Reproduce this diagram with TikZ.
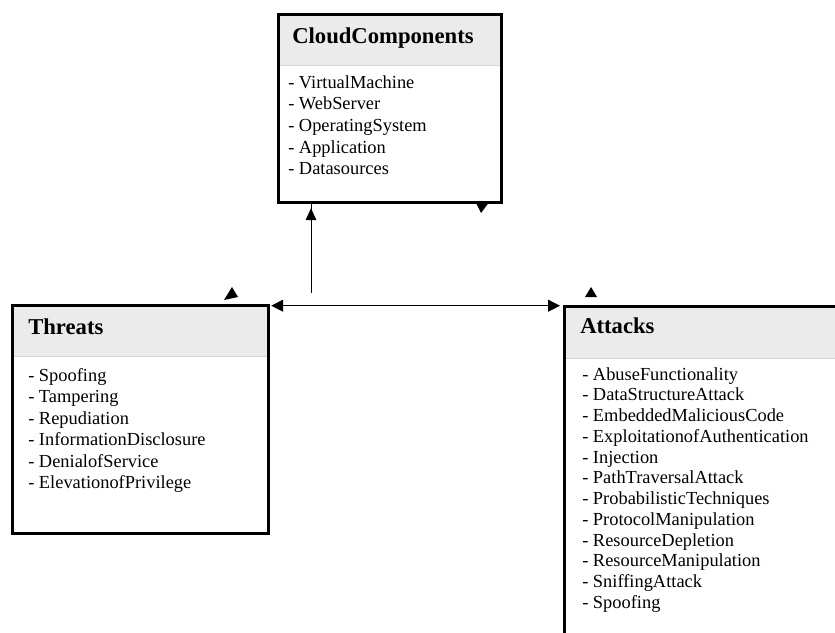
\documentclass[tikz,border=0pt]{standalone}
\usepackage{fontspec}
\setmainfont{Liberation Serif}
\usetikzlibrary{arrows.meta}
\definecolor{hdr}{HTML}{EBEBEB}
\definecolor{divl}{HTML}{D6D6D6}
\begin{document}
\begin{tikzpicture}[x=0.75pt,y=-0.75pt,
  boxborder/.style={draw=black,line width=2.4pt,fill=none,inner sep=0pt,anchor=north west},
  hdrfill/.style={fill=hdr,draw=none,inner sep=0pt,anchor=north west},
  ttl/.style={font=\fontsize{17}{20}\selectfont\bfseries,anchor=base west,inner sep=0pt},
  itm/.style={font=\fontsize{13.8}{16}\selectfont,anchor=base west,inner sep=0pt},
  conn/.style={line width=0.6pt,black},
  tipshape/.style={fill=black}]
\clip (0,0) rectangle (835,632);
\fill[white] (0,0) rectangle (835,632);

% header fills
\node[hdrfill,minimum width=223*0.75pt,minimum height=52*0.75pt] (cloudhdr) at (277,13) {};
\node[hdrfill,minimum width=256*0.75pt,minimum height=52*0.75pt] (thrhdr) at (11,304) {};
\node[hdrfill,minimum width=290*0.75pt,minimum height=53*0.75pt] (atthdr) at (563,305) {};
\draw[divl,line width=1pt] (cloudhdr.south west) -- (cloudhdr.south east);
\draw[divl,line width=1pt] (thrhdr.south west) -- (thrhdr.south east);
\draw[divl,line width=1pt] (atthdr.south west) -- (atthdr.south east);

% box borders
\node[boxborder,minimum width=223*0.75pt,minimum height=188*0.75pt] (cloud) at (277,13) {};
\node[boxborder,minimum width=256*0.75pt,minimum height=228*0.75pt] (threats) at (11,304) {};
\node[boxborder,minimum width=290*0.75pt,minimum height=360*0.75pt] (attacks) at (563,305) {};

% titles
\node[ttl] (cloudttl) at (292,43) {CloudComponents};
\node[ttl] (thrttl) at (28,334) {Threats};
\node[ttl] (attttl) at (580,333) {Attacks};

% items
\foreach \t [count=\i from 0] in {VirtualMachine,WebServer,OperatingSystem,Application,Datasources}
  \node[itm] (c\i) at (288,88+21.7*\i) {- \t};
\foreach \t [count=\i from 0] in {Spoofing,Tampering,Repudiation,InformationDisclosure,DenialofService,ElevationofPrivilege}
  \node[itm] (t\i) at (28,381+21.5*\i) {- \t};
\foreach \t [count=\i from 0] in {AbuseFunctionality,DataStructureAttack,EmbeddedMaliciousCode,ExploitationofAuthentication,Injection,PathTraversalAttack,ProbabilisticTechniques,ProtocolManipulation,ResourceDepletion,ResourceManipulation,SniffingAttack,Spoofing}
  \node[itm] (a\i) at (582,380+20.75*\i) {- \t};

% connectors
\coordinate (vstart) at (311,293);
\draw[conn,-{Triangle[length=9pt,width=8pt]}] (vstart) -- (vstart |- cloud.south) ++(0,4);
\draw[conn,{Triangle[length=9pt,width=9pt]}-{Triangle[length=9pt,width=9pt]}] (threats.north east |- 0,305.7) ++(1,0) -- ([xshift=-3*0.75pt]attacks.west |- 0,305.7);

% stray arrowheads
\fill[tipshape] (475,201) -- (490,201) -- (481,213) -- cycle;
\fill[tipshape] (224,300) -- (238,297) -- (232,287) -- cycle;
\fill[tipshape] (585,297) -- (597,297) -- (591,287) -- cycle;
\end{tikzpicture}
\end{document}
